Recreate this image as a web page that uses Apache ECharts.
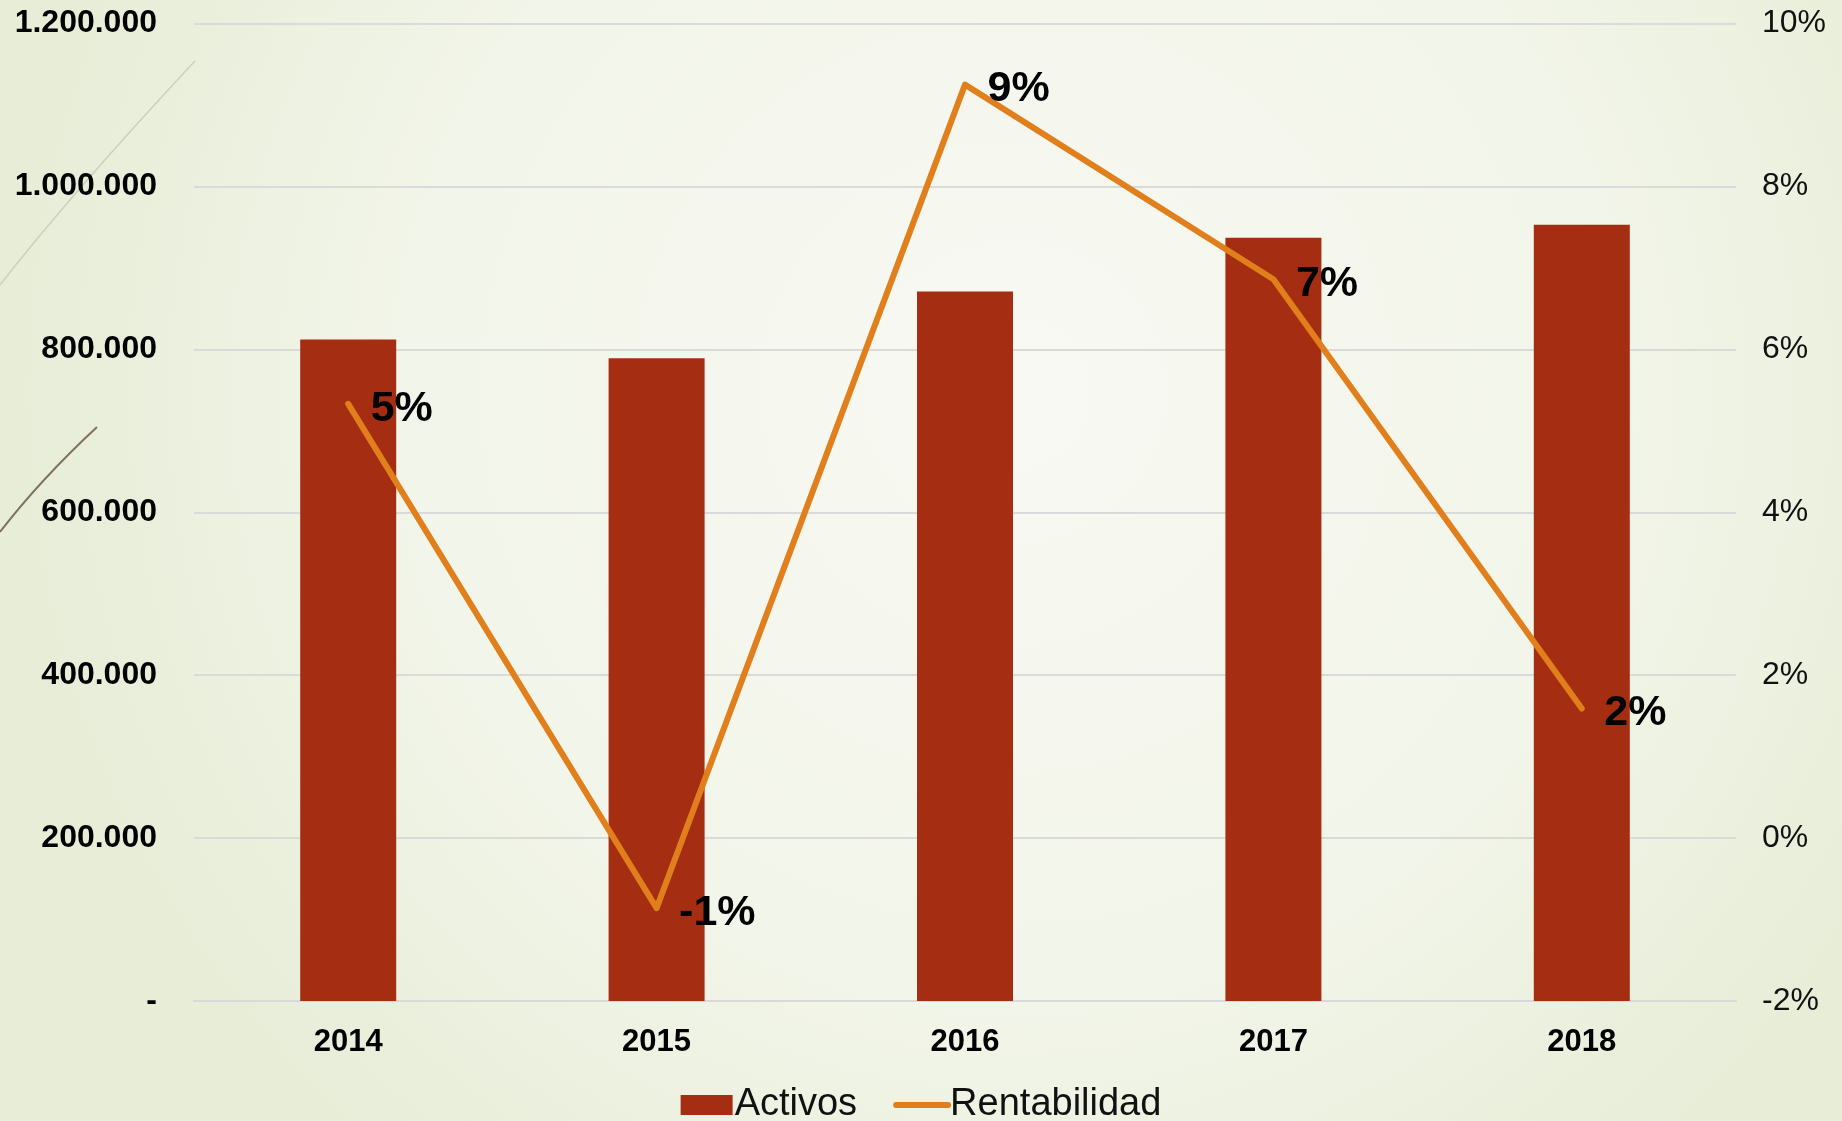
<!DOCTYPE html>
<html>
<head>
<meta charset="utf-8">
<script src="https://cdn.jsdelivr.net/npm/echarts@6/dist/echarts.min.js"></script>
<style>
html,body{margin:0;padding:0;}
#c{width:1842px;height:1121px;}
</style>
</head>
<body>
<div id="c"></div>
<script>
const categories = ['2014', '2015', '2016', '2017', '2018'];
const activos = [812000, 789000, 871000, 937000, 953000];
const rentabilidad = [5.33, -0.86, 9.25, 6.86, 1.59];
const leftTicks = { min: 0, max: 1200000, interval: 200000 };
const rightTicks = { min: -2, max: 10, interval: 2 };

const FONT = '"Liberation Sans", Arial, sans-serif';

function fmtThousands(v) {
  if (v === 0) return '-';
  return String(Math.round(v)).replace(/\B(?=(\d{3})+(?!\d))/g, '.');
}

const chart = echarts.init(document.getElementById('c'), null, { renderer: 'canvas' });
chart.setOption({
  animation: false,
  backgroundColor: {
    type: 'radial', x: 0.55, y: 0.35, r: 0.9,
    colorStops: [
      { offset: 0, color: '#f8f9f3' },
      { offset: 0.6, color: '#f2f5e9' },
      { offset: 1, color: '#e7edd7' }
    ]
  },
  graphic: [
    {
      type: 'bezierCurve', silent: true, z: -1,
      shape: { x1: 0, y1: 285, x2: 195, y2: 61, cpx1: 70, cpy1: 195 },
      style: { stroke: '#cfcfbf', lineWidth: 1.5, fill: null }
    },
    {
      type: 'bezierCurve', silent: true, z: -1,
      shape: { x1: 0, y1: 532, x2: 97, y2: 427, cpx1: 40, cpy1: 480 },
      style: { stroke: '#7d725c', lineWidth: 2, fill: null }
    }
  ],
  grid: { left: 194, right: 106, top: 23.5, bottom: 120 },
  legend: {
    bottom: -8,
    left: 'center',
    itemWidth: 52,
    itemHeight: 20,
    itemGap: 36,
    textStyle: { fontFamily: FONT, fontSize: 38, color: '#111', padding: [0, 0, 0, -3] },
    data: [
      { name: 'Activos', icon: 'rect' },
      { name: 'Rentabilidad', itemStyle: { opacity: 0 }, lineStyle: { width: 6, cap: 'round', color: '#e07f1b' } }
    ]
  },
  xAxis: {
    type: 'category',
    data: categories,
    axisTick: { show: false },
    axisLine: { show: true, lineStyle: { color: '#d9d9d9', width: 2 } },
    axisLabel: { fontFamily: FONT, fontSize: 31, fontWeight: 'bold', color: '#000', margin: 26 }
  },
  yAxis: [
    {
      type: 'value',
      min: leftTicks.min, max: leftTicks.max, interval: leftTicks.interval,
      axisLine: { show: false },
      axisTick: { show: false },
      splitLine: { show: true, lineStyle: { color: '#dadada', width: 2 } },
      axisLabel: { fontFamily: FONT, fontSize: 32, fontWeight: 'bold', color: '#000', margin: 37, formatter: fmtThousands }
    },
    {
      type: 'value',
      min: rightTicks.min, max: rightTicks.max, interval: rightTicks.interval,
      axisLine: { show: false },
      axisTick: { show: false },
      splitLine: { show: false },
      axisLabel: { fontFamily: FONT, fontSize: 32, color: '#111', margin: 26, formatter: v => v + '%' }
    }
  ],
  series: [
    {
      name: 'Activos',
      type: 'bar',
      data: activos,
      barWidth: 96,
      itemStyle: { color: '#a52d11' }
    },
    {
      name: 'Rentabilidad',
      type: 'line',
      yAxisIndex: 1,
      data: rentabilidad,
      symbol: 'circle',
      symbolSize: 1,
      showSymbol: true,
      itemStyle: { color: '#e07f1b' },
      lineStyle: { color: '#e07f1b', width: 6, cap: 'round', join: 'round' },
      label: {
        show: true,
        position: 'right',
        distance: 22,
        offset: [0, 5],
        fontFamily: FONT,
        fontSize: 43,
        fontWeight: 'bold',
        color: '#000',
        formatter: p => Math.round(p.value) + '%'
      },
      z: 3
    }
  ]
});
</script>
</body>
</html>
